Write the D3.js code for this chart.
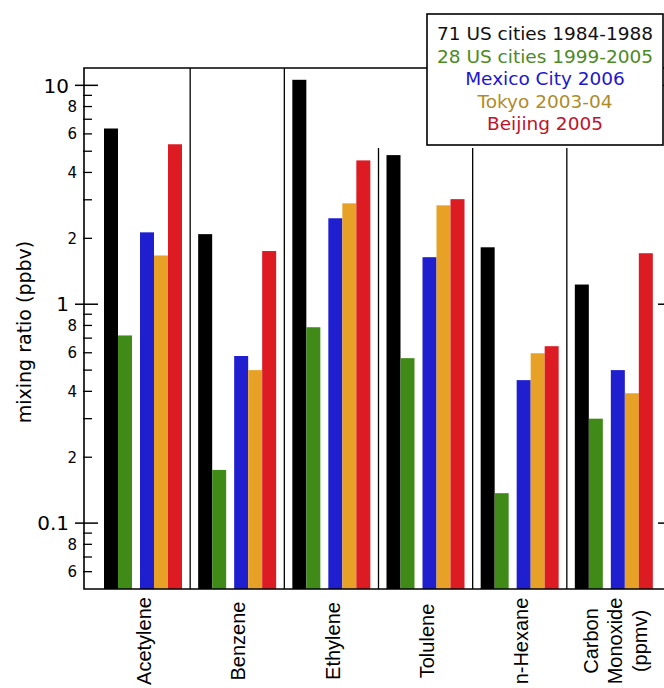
<!DOCTYPE html>
<html>
<head>
<meta charset="utf-8">
<script src="https://cdn.jsdelivr.net/npm/d3@7"></script>
<style>
body{margin:0;background:#fff;}
text{font-family:"DejaVu Sans",sans-serif;}
</style>
</head>
<body>
<div id="graph"></div>
<script>
var categories = ['Acetylene', 'Benzene', 'Ethylene', 'Tolulene', 'n-Hexane', 'Carbon Monoxide (ppmv)']
var series = ['71 US cities 1984-1988', '28 US cities 1999-2005', 'Mexico City 2006', 'Tokyo 2003-04', 'Beijing 2005']

var us1984 = [6.35, 2.09, 10.6, 4.8, 1.82, 1.23]
var us1999 = [0.72, 0.175, 0.785, 0.567, 0.137, 0.30]
var mexico2006 = [2.13, 0.58, 2.47, 1.64, 0.45, 0.50]
var tokyo2003 = [1.67, 0.50, 2.89, 2.83, 0.597, 0.392]
var beijing2005 = [5.38, 1.75, 4.54, 3.02, 0.643, 1.71]

var majorTicks = [0.1, 1, 10]
var minorTicks = [0.06, 0.07, 0.08, 0.09, 0.2, 0.3, 0.4, 0.5, 0.6, 0.7, 0.8, 0.9,
	2, 3, 4, 5, 6, 7, 8, 9]
var minorLabels = [0.06, 0.08, 0.2, 0.4, 0.6, 0.8, 2, 4, 6, 8]

var barColors = ['#000000', '#408b18', '#1f1fcf', '#e6a126', '#dc1b23']
var textColors = ['#111111', '#4c8a22', '#2016d2', '#b08b2a', '#c0122a']

var values = [us1984, us1999, mexico2006, tokyo2003, beijing2005]

var width = 664, height = 688
var pLeft = 84, pRight = 667, pTop = 68, pBottom = 589

var svg = d3.select('#graph').append('svg')
	.attr('width', width)
	.attr('height', height)

var y = d3.scaleLog().domain([0.05, 12]).range([pBottom, pTop])
var x = d3.scaleBand().domain(categories).range([96, 661])

// bar slot inside each group: 2 bars, gap, 3 bars
var bw = 14, pad = 8
function slot(i){ return pad + i*bw + (i >= 2 ? pad : 0) }

var bars = []
categories.forEach(function(c, ci){
	values.forEach(function(s, si){
		bars.push({c: c, si: si, v: s[ci]})
	})
})

svg.append('g').selectAll('rect')
	.data(bars).join('rect')
	.attr('x', d => x(d.c) + slot(d.si))
	.attr('width', bw)
	.attr('y', d => y(d.v))
	.attr('height', d => pBottom - y(d.v))
	.attr('fill', d => barColors[d.si])

// group separators
svg.append('g').selectAll('line')
	.data(categories.slice(1)).join('line')
	.attr('x1', d => x(d)).attr('x2', d => x(d))
	.attr('y1', (d, i) => i < 2 ? pTop : 148)
	.attr('y2', pBottom)
	.attr('stroke', '#000').attr('stroke-width', 1.3)

// frame
svg.append('path')
	.attr('d', 'M' + [pLeft, pTop] + 'L' + [pRight, pTop] + 'L' + [pRight, pBottom] + 'L' + [pLeft, pBottom] + 'Z')
	.attr('fill', 'none').attr('stroke', '#000').attr('stroke-width', 1.6)

// left axis ticks
var ax = svg.append('g')
ax.selectAll('line.major').data(majorTicks).join('line')
	.attr('class', 'major')
	.attr('x1', pLeft - 9).attr('x2', pLeft + 14)
	.attr('y1', d => y(d)).attr('y2', d => y(d))
	.attr('stroke', '#000').attr('stroke-width', 1.5)
ax.selectAll('line.minor').data(minorTicks).join('line')
	.attr('class', 'minor')
	.attr('x1', pLeft - 1).attr('x2', pLeft + 8)
	.attr('y1', d => y(d)).attr('y2', d => y(d))
	.attr('stroke', '#000').attr('stroke-width', 1.3)
ax.selectAll('text.major').data(majorTicks).join('text')
	.attr('class', 'major')
	.attr('x', pLeft - 15).attr('y', d => y(d))
	.attr('dy', '0.36em')
	.attr('text-anchor', 'end')
	.style('font-size', '20px')
	.text(d => d)
ax.selectAll('text.minor').data(minorLabels).join('text')
	.attr('class', 'minor')
	.attr('x', pLeft - 7).attr('y', d => y(d))
	.attr('dy', '0.36em')
	.attr('text-anchor', 'end')
	.style('font-size', '15px')
	.text(d => String(d).replace('0.0', '').replace('0.', ''))

// right axis ticks
svg.append('g').selectAll('line').data(majorTicks).join('line')
	.attr('x1', pRight - 9).attr('x2', pRight)
	.attr('y1', d => y(d)).attr('y2', d => y(d))
	.attr('stroke', '#000').attr('stroke-width', 1.5)

svg.append('text')
	.attr('transform', 'translate(31,332) rotate(-90)')
	.attr('text-anchor', 'middle')
	.style('font-size', '19px')
	.text('mixing ratio (ppbv)')

// category labels
var labelSel = svg.append('g').selectAll('g')
	.data(categories).join('g')
	.attr('transform', d => 'translate(' + (x(d) + x.bandwidth()/2 + 1) + ',641) rotate(-90)')

labelSel.each(function(d){
	var lines = d == 'Carbon Monoxide (ppmv)' ? ['Carbon', 'Monoxide', '(ppmv)'] : [d]
	d3.select(this).selectAll('text').data(lines).join('text')
		.attr('x', 0)
		.attr('y', (l, i) => (i - (lines.length - 1)/2)*24.5)
		.attr('dy', '0.36em')
		.attr('text-anchor', 'middle')
		.style('font-family', '"Liberation Sans", Arial, sans-serif')
		.style('font-size', '20px')
		.text(l => l)
})

// legend
var lg = svg.append('g')
lg.append('rect')
	.attr('x', 427).attr('y', 14).attr('width', 236).attr('height', 131)
	.attr('fill', '#fff').attr('stroke', '#000').attr('stroke-width', 1.6)
lg.selectAll('text').data(series).join('text')
	.attr('x', 545).attr('y', (d, i) => 40 + i*22.5)
	.attr('text-anchor', 'middle')
	.style('font-size', '18.5px')
	.attr('fill', (d, i) => textColors[i])
	.text(d => d)
</script>
</body>
</html>
